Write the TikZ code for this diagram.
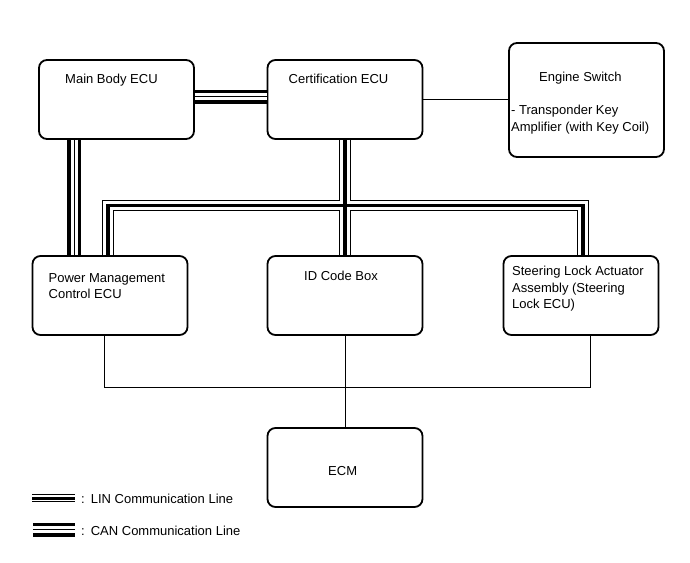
\documentclass[tikz,border=0pt]{standalone}
\usepackage{fontspec}
\setmainfont{Liberation Sans}

\begin{document}
\begin{tikzpicture}[x=1pt,y=-1pt]
            \tikzset{ecu/.style = {draw, line width=1.8pt, rounded corners=8pt, minimum width=155pt, minimum height=79pt, inner sep=0pt}}
            \tikzset{lbl/.style = {anchor=north west, inner sep=0pt, align=left, font=\fontsize{13}{16.5}\selectfont}}
            \tikzset{wire/.style = {line width=0.9pt}}
            \tikzset{canline/.style = {line width=14pt, postaction={draw, white, line width=7pt}, postaction={draw, black, line width=1pt}}}
            \tikzset{linline/.style = {line width=8pt, postaction={draw, white, line width=6pt}, postaction={draw, black, line width=3pt}}}
            \useasboundingbox (0,0) rectangle (690,562);
            
            \node[ecu] (mb) at (116.5,99.5) {};
            \node[ecu] (cb) at (345,99.5) {};
            \node[ecu, minimum height=114pt] (es) at (586.5,100) {};
            \node[ecu] (pm) at (110,295.5) {};
            \node[ecu] (id) at (345,295.5) {};
            \node[ecu] (sl) at (581,295.5) {};
            \node[ecu] (ecm) at (345,467.5) {};
            
            \node[lbl] (mbtxt) at (65,74) {Main Body ECU};
            \node[lbl] (cbtxt) at (288.5,74) {Certification ECU};
            \node[lbl] (estxt) at (539,72) {Engine Switch};
            \node[lbl] (trtxt) at (511,105) {- Transponder Key\\Amplifier (with Key Coil)};
            \node[lbl] (pmtxt) at (48.5,273) {Power Management\\Control ECU};
            \node[lbl] (idtxt) at (304,270.5) {ID Code Box};
            \node[lbl] (sltxt) at (512,266) {Steering Lock Actuator\\Assembly (Steering\\Lock ECU)};
            \node[lbl] (ecmtxt) at (328,466) {ECM};
            
            \coordinate (mbpm) at ([xshift=36pt]mb.south west);
            \draw[canline] ([yshift=3pt]mb.east) -- ([yshift=3pt]cb.west);
            \draw[canline] (mbpm) -- (mbpm |- pm.north);
            \draw[wire] (cb.east) -- (cb.east -| es.west);
            
            \coordinate (busl) at (108,205.7);
            \coordinate (busr) at (583,205.7);
            \foreach \w/\col in {11.5/black, 9.5/white, 3.5/black}
            {
                \draw[line width=\w pt, \col] (pm.north -| busl) -- (busl) -- (busr) -- (sl.north -| busr);
                \draw[line width=\w pt, \col] (cb.south) -- (id.north);
            }
            
            \coordinate (lowl) at (104.5,387);
            \coordinate (lowr) at (590.5,387);
            \draw[wire] (pm.south -| lowl) -- (lowl) -- (lowr) -- (sl.south -| lowr);
            \draw[wire] (id.south) -- (ecm.north);
            
            \coordinate (lina) at (32,498);
            \coordinate (linb) at (75,498);
            \coordinate (cana) at (33,529.5);
            \coordinate (canb) at (75,529.5);
            \draw[linline] (lina) -- (linb);
            \draw[canline] (cana) -- (canb);
            \node[lbl, anchor=base west] (lintxt) at (81,503) {:\hspace{6pt}LIN Communication Line};
            \node[lbl, anchor=base west] (cantxt) at (81,535) {:\hspace{6pt}CAN Communication Line};
            
\end{tikzpicture}
\end{document}
